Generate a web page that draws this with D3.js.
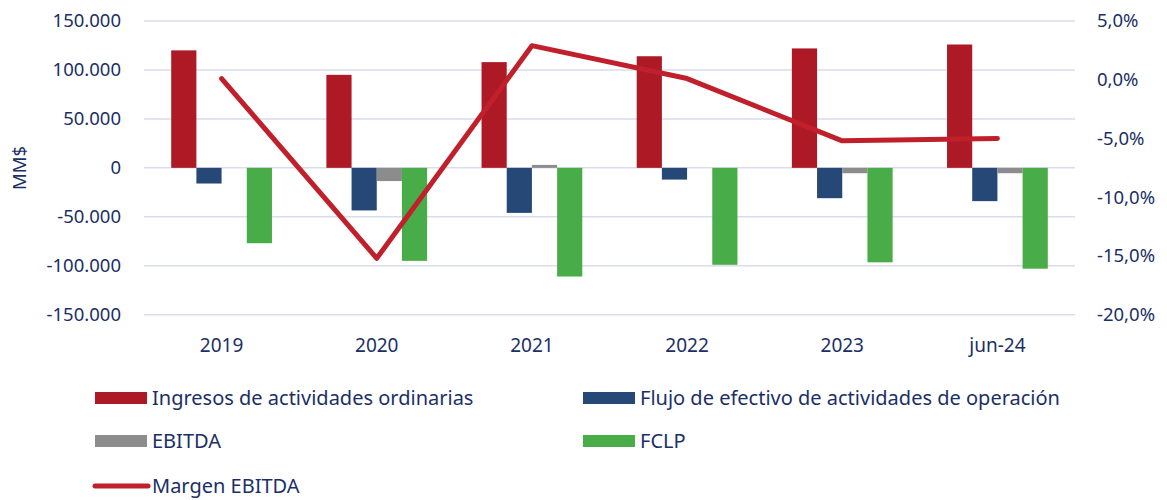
<!DOCTYPE html>
<html><head><meta charset="utf-8">
<script src="https://cdn.jsdelivr.net/npm/d3@7"></script>
<style>body{margin:0;background:#fff}</style>
</head><body><svg id="c" width="1167" height="500" style="font-family:'Noto Sans','Open Sans',sans-serif"></svg>
<script>
const categories = ["2019","2020","2021","2022","2023","jun-24"];
const ingresos = [120000, 95000, 108000, 114000, 122000, 126000];
const flujo = [-16000, -43500, -46000, -12000, -31000, -34000];
const ebitda = [0, -13500, 3000, 0, -5500, -5500];
const fclp = [-77000, -95000, -111000, -99000, -96500, -103000];
const margen = [0.1, -15.2, 2.9, 0.1, -5.2, -5.0];
const leftTicks = [-150000,-100000,-50000,0,50000,100000,150000];
const rightTicks = [-20,-15,-10,-5,0,5];
const seriesNames = ["Ingresos de actividades ordinarias","Flujo de efectivo de actividades de operación","EBITDA","FCLP","Margen EBITDA"];
const colors = ["#AD1A25","#264876","#8C8C8C","#48AD48","#C0202B"];

const svg = d3.select("#c");
const L=144, R=1075, T=21, B=314.7;
const textColor = "#1B2F66";
const FS = 18.5;
const x = d3.scaleBand().domain(categories).range([L,R]).paddingInner(0).paddingOuter(0);
const y = d3.scaleLinear().domain([-150000,150000]).range([B,T]);
const y2 = d3.scaleLinear().domain([-20,5]).range([B,T]);
const loc = d3.formatLocale({decimal:",",thousands:".",grouping:[3],currency:["","$"],minus:"-"});
const fmtL = loc.format(",");
const fmtR = d => loc.format(".1f")(d) + "%";

// gridlines
svg.append("g").selectAll("line").data(leftTicks).join("line")
  .attr("x1",L).attr("x2",R).attr("y1",d=>y(d)).attr("y2",d=>y(d))
  .attr("stroke","#D9DCEB").attr("stroke-width",1.5);

// left axis
const gl = svg.append("g").attr("transform",`translate(${L},0)`)
  .call(d3.axisLeft(y).tickValues(leftTicks).tickFormat(fmtL).tickSize(0).tickPadding(23));
gl.select(".domain").remove();
gl.selectAll("text").attr("fill",textColor).attr("font-size",FS);

// right axis
const gr = svg.append("g").attr("transform",`translate(${R},0)`)
  .call(d3.axisRight(y2).tickValues(rightTicks).tickFormat(fmtR).tickSize(0).tickPadding(22));
gr.select(".domain").remove();
gr.selectAll("text").attr("fill",textColor).attr("font-size",FS);

// x axis
const gx = svg.append("g").attr("transform",`translate(0,${B})`)
  .call(d3.axisBottom(x).tickSize(0).tickPadding(24));
gx.select(".domain").remove();
gx.selectAll("text").attr("fill",textColor).attr("font-size",19);
[gl,gr,gx].forEach(g=>g.attr("font-family",null).attr("font-size",null));

// y title
svg.append("text").attr("transform","translate(26,168) rotate(-90)")
  .attr("text-anchor","middle").attr("fill",textColor).attr("font-size",FS).text("MM$");

// bars
const barSeries = [ingresos, flujo, ebitda, fclp];
const inner = d3.scaleBand().domain([0,1,2,3]).range([0, x.bandwidth()]).paddingInner(0).paddingOuter(1.08);
barSeries.forEach((vals,i)=>{
  svg.append("g").selectAll("rect").data(vals).join("rect")
    .attr("x",(d,j)=>x(categories[j])+inner(i))
    .attr("width",inner.bandwidth())
    .attr("y",d=>Math.min(y(d),y(0)))
    .attr("height",d=>Math.abs(y(d)-y(0)))
    .attr("fill",colors[i]);
});

// line
const line = d3.line().x((d,j)=>x(categories[j])+x.bandwidth()/2).y(d=>y2(d));
svg.append("path").datum(margen).attr("d",line).attr("fill","none")
  .attr("stroke",colors[4]).attr("stroke-width",5).attr("stroke-linecap","round").attr("stroke-linejoin","round");

// legend
const legendItems = [
  {i:0,x:95,y:398},{i:1,x:583,y:398},{i:2,x:95,y:441},{i:3,x:583,y:441},{i:4,x:95,y:486}
];
const lg = svg.append("g");
legendItems.forEach(it=>{
  if(it.i<4){
    lg.append("rect").attr("x",it.x).attr("y",it.y-6).attr("width",52).attr("height",12).attr("fill",colors[it.i]);
  } else {
    lg.append("line").attr("x1",it.x).attr("x2",it.x+53).attr("y1",it.y).attr("y2",it.y)
      .attr("stroke",colors[4]).attr("stroke-width",5).attr("stroke-linecap","round");
  }
  lg.append("text").attr("x",it.x+57).attr("y",it.y).attr("dy","0.35em")
    .attr("fill",textColor).attr("font-size",20).text(seriesNames[it.i]);
});
</script></body></html>
